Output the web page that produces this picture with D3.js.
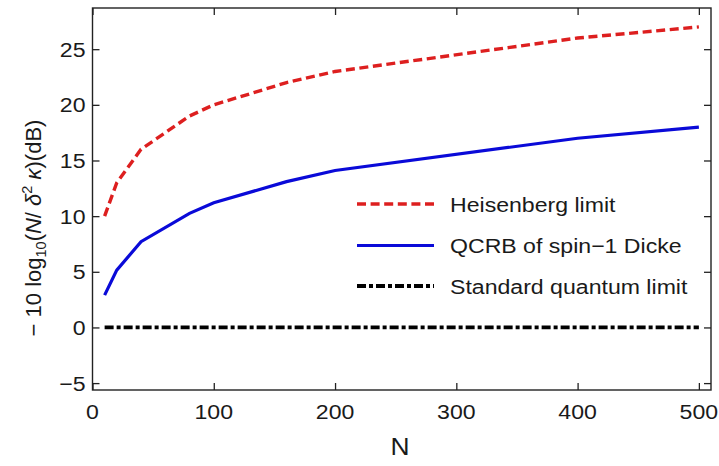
<!DOCTYPE html>
<html><head><meta charset="utf-8">
<script src="https://cdn.jsdelivr.net/npm/d3@7"></script>
<style>body{margin:0;background:#fff}svg{display:block}text{font-family:"Liberation Sans",Arial,sans-serif;fill:#1a1a1a}</style>
</head><body><svg id="c" width="719" height="466"></svg>
<script>
const N = [10, 20, 40, 80, 100, 160, 200, 400, 500];
const heisenberg = [10, 13.0, 16.0, 19.0, 20.0, 22.0, 23.0, 26.0, 27.0];
const qcrb = [2.9, 5.15, 7.7, 10.25, 11.2, 13.1, 14.1, 17.0, 18.0];
const sql = [0, 0, 0, 0, 0, 0, 0, 0, 0];
const xTicks = [0, 100, 200, 300, 400, 500];
const yTicks = [-5, 0, 5, 10, 15, 20, 25];
const legendLabels = ["Heisenberg limit", "QCRB of spin\u22121 Dicke", "Standard quantum limit"];

const svg = d3.select("#c");
const L = 92.5, R = 711, T = 8, B = 390;
const x = d3.scaleLinear().domain([0, 510]).range([L, R]);
const y = d3.scaleLinear().domain([-5.62, 28.7]).range([B, T]);
const SX = 1.1, FS = 21;

function stext(g, tx, ty, str, anchor, fs) {
  const gg = g.append("g").attr("transform", `translate(${tx},${ty}) scale(${SX},1)`);
  return gg.append("text").attr("text-anchor", anchor || "start").attr("font-size", fs || FS).text(str);
}

const series = [
  {vals: heisenberg, color: "#dd1f1f", dash: "9,4.6", w: 3.4},
  {vals: qcrb, color: "#0a0ad8", dash: null, w: 3.2},
  {vals: sql, color: "#000", dash: "9,3,4,3", w: 3.8}
];
const line = d3.line().x((d, i) => x(N[i])).y(d => y(d));
series.slice().reverse().forEach(s => {
  const p = svg.append("path").datum(s.vals).attr("d", line).attr("fill", "none")
    .attr("stroke", s.color).attr("stroke-width", s.w);
  if (s.dash) p.attr("stroke-dasharray", s.dash);
});

const tl = 7;
const gb = svg.append("g").attr("transform", `translate(0,${B})`)
  .call(d3.axisBottom(x).tickValues(xTicks).tickSize(-tl).tickFormat(""));
const gt = svg.append("g").attr("transform", `translate(0,${T})`)
  .call(d3.axisTop(x).tickValues(xTicks).tickSize(-tl).tickFormat(""));
const gl = svg.append("g").attr("transform", `translate(${L},0)`)
  .call(d3.axisLeft(y).tickValues(yTicks).tickSize(-tl).tickFormat(""));
const gr = svg.append("g").attr("transform", `translate(${R},0)`)
  .call(d3.axisRight(y).tickValues(yTicks).tickSize(-tl).tickFormat(""));
[gb, gt, gl, gr].forEach(g => {
  g.select(".domain").remove();
  g.selectAll(".tick line").attr("stroke", "#222").attr("stroke-width", 1.3);
});
svg.append("rect").attr("x", L).attr("y", T).attr("width", R - L).attr("height", B - T)
  .attr("fill", "none").attr("stroke", "#222").attr("stroke-width", 1.4);

xTicks.forEach(v => stext(svg, x(v), 419, String(v), "middle"));
yTicks.forEach(v => stext(svg, L - 7, y(v) + 7.5, v < 0 ? "\u2212" + Math.abs(v) : String(v), "end"));

stext(svg, 400, 455, "N", "middle", 24);

const yl = svg.append("g").attr("transform", "translate(41,228) rotate(-90)");
const t = yl.append("text").attr("text-anchor", "middle").attr("font-size", 22);
t.append("tspan").text("\u2212 10 log");
t.append("tspan").attr("font-size", 14.5).attr("dy", 5).text("10");
t.append("tspan").attr("dy", -5).text("(");
t.append("tspan").attr("font-style", "italic").text("N");
t.append("tspan").text("/ ");
t.append("tspan").attr("font-style", "italic").text("\u03b4");
t.append("tspan").attr("font-size", 14.5).attr("dy", -9).text("2");
t.append("tspan").attr("dy", 9).attr("font-style", "italic").text(" \u03ba");
t.append("tspan").text(")(dB)");

const ly = [204, 245.5, 286];
series.forEach((s, i) => {
  const p = svg.append("line").attr("x1", 357).attr("x2", 434).attr("y1", ly[i]).attr("y2", ly[i])
    .attr("stroke", s.color).attr("stroke-width", s.w);
  if (s.dash) p.attr("stroke-dasharray", s.dash);
  stext(svg, 450, ly[i] + 7.5, legendLabels[i], "start");
});
</script></body></html>
